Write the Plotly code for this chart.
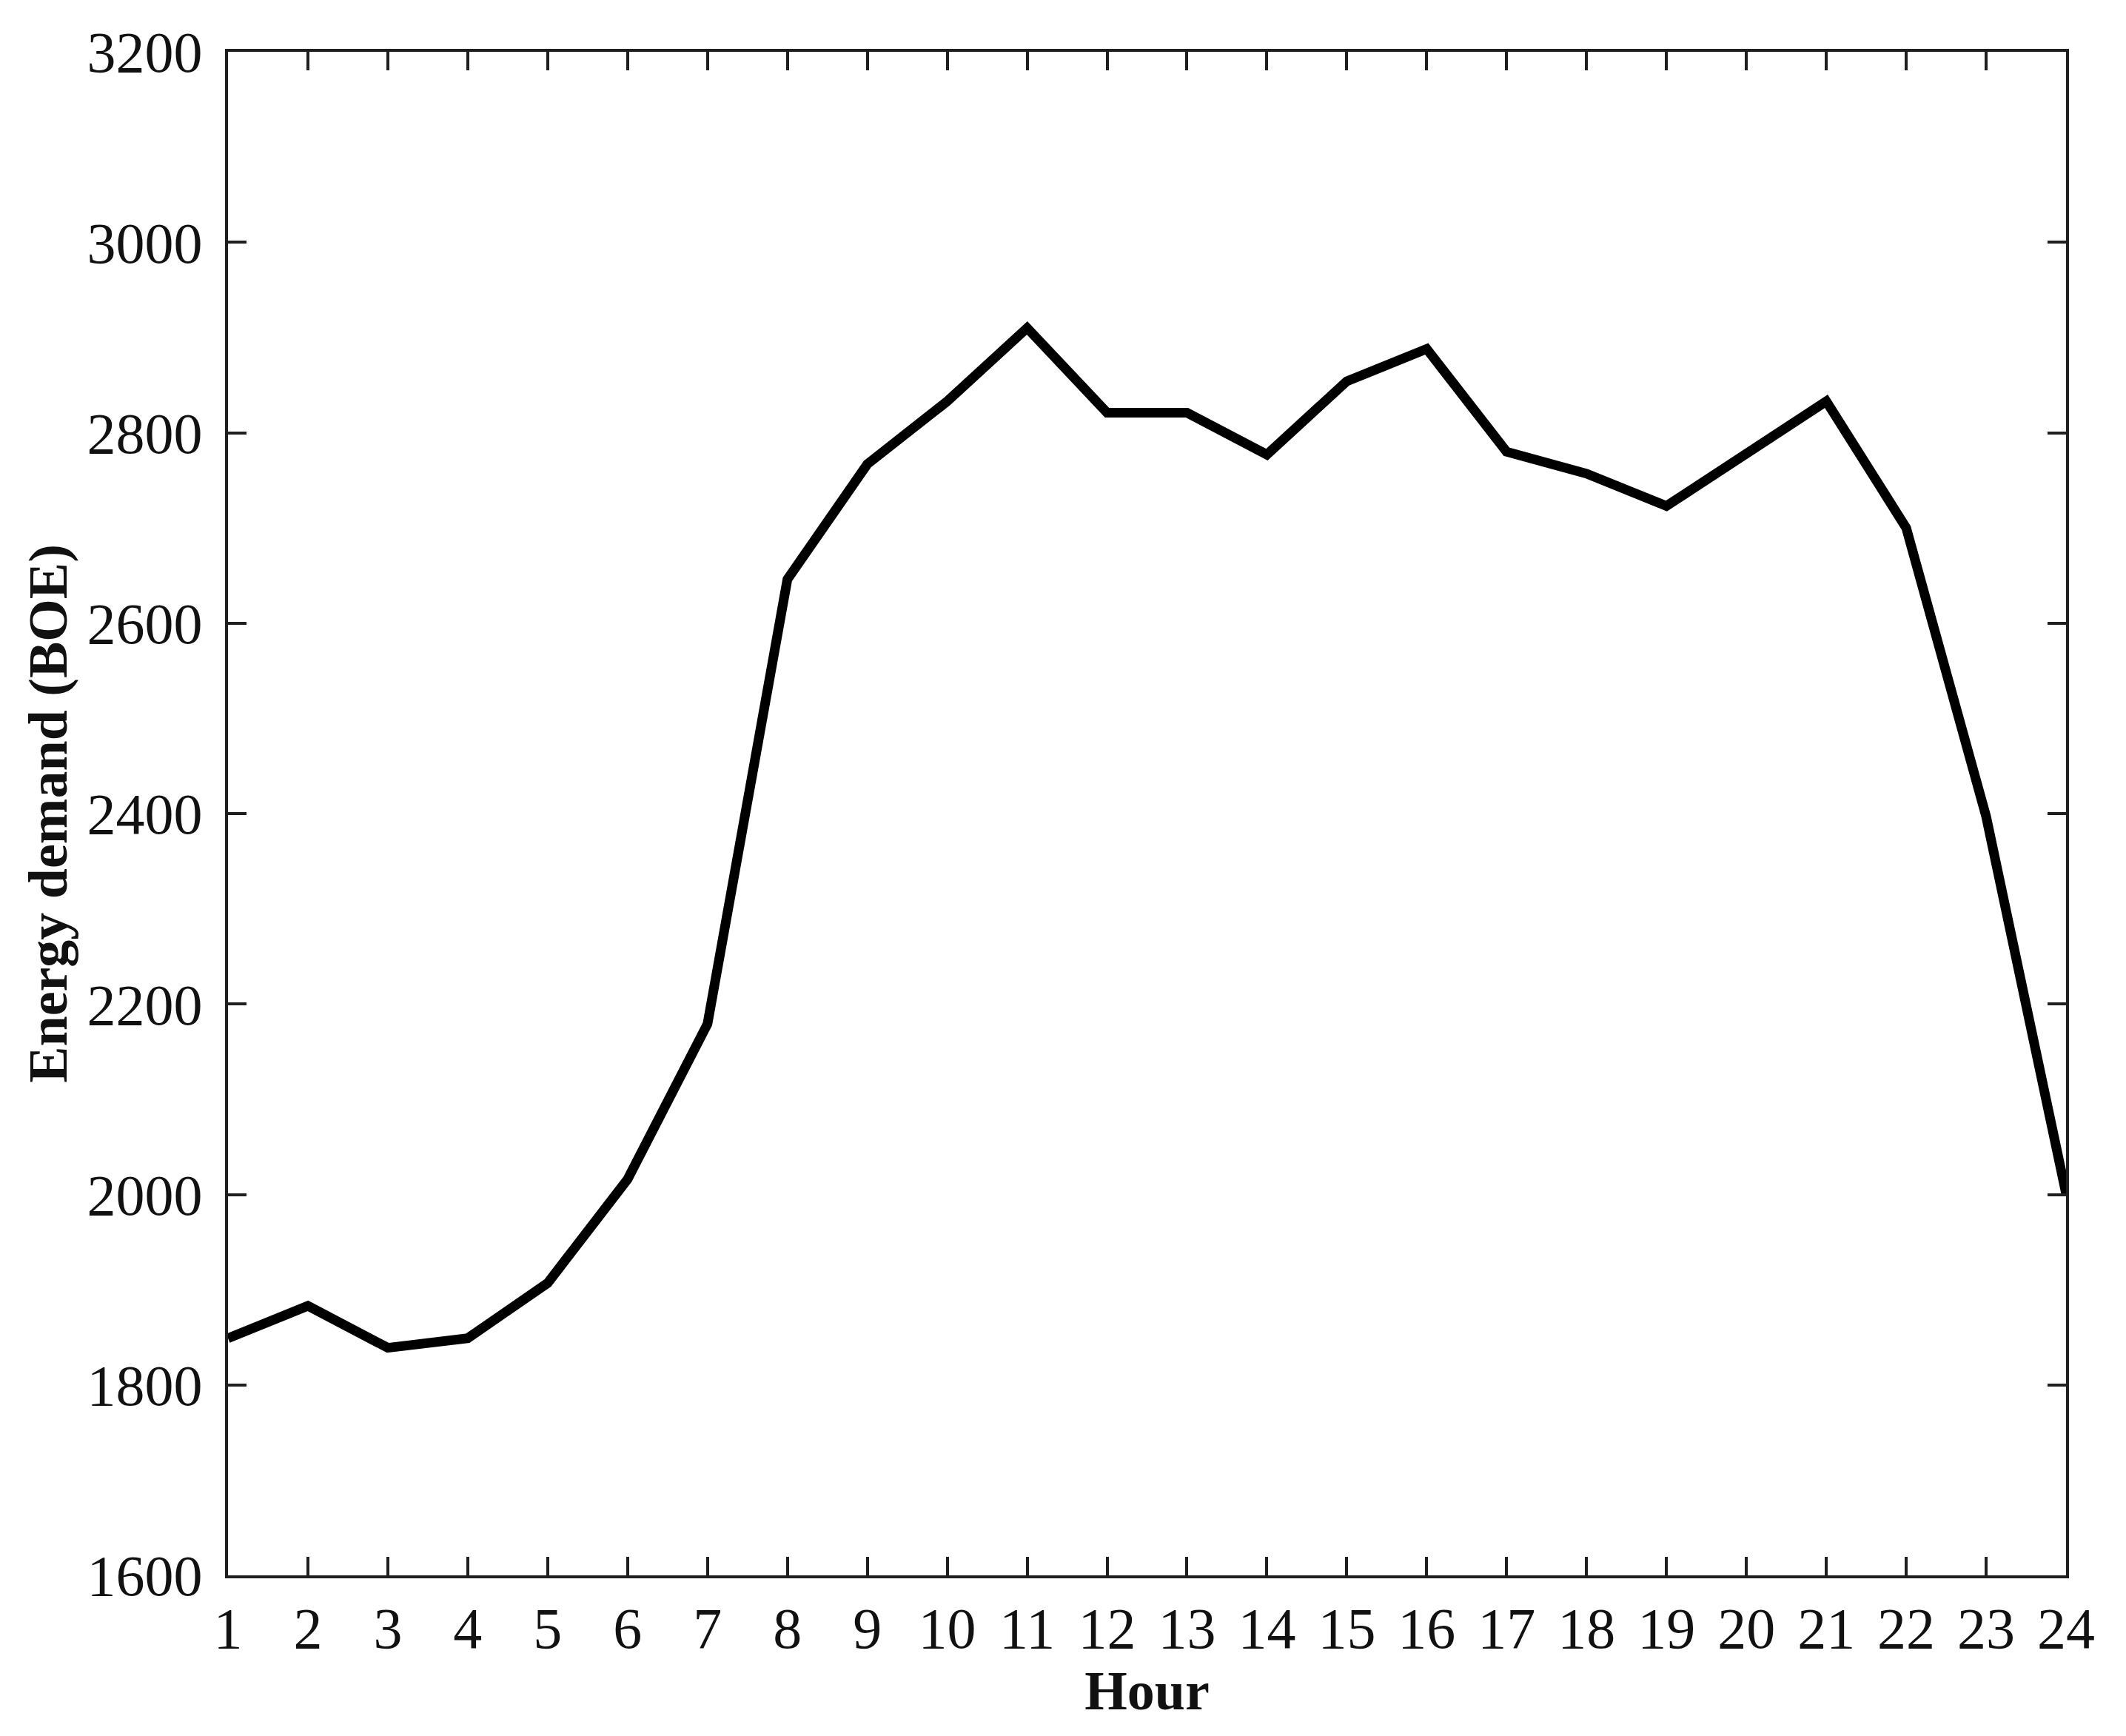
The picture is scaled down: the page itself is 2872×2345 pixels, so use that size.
import plotly.graph_objects as go

# hourly energy demand
hours = list(range(1, 25))
demand = [1849, 1883, 1839, 1849, 1907, 2016, 2179, 2646, 2767, 2833, 2910, 2821,
          2821, 2777, 2854, 2888, 2780, 2757, 2723, 2779, 2833, 2700, 2397, 2001]
y_ticks = [1600, 1800, 2000, 2200, 2400, 2600, 2800, 3000, 3200]

# the page body has an 8px margin, so the figure is made 8px smaller
W, H = 2864, 2337
font = "Liberation Serif, Times New Roman, serif"
axis_color = "#1f1f1f"

fig = go.Figure()
fig.add_trace(
    go.Scatter(
        x=hours,
        y=demand,
        mode="lines",
        line=dict(color="black", width=13),
        showlegend=False,
        cliponaxis=False,
    )
)

axis_kwargs = dict(
    showgrid=False,
    zeroline=False,
    showline=True,
    linecolor=axis_color,
    linewidth=4,
    mirror="ticks",
    ticks="inside",
    ticklen=25,
    tickwidth=4,
    tickcolor=axis_color,
    tickfont=dict(family=font, size=78, color="#111111"),
)

fig.update_layout(
    width=W,
    height=H,
    template=None,
    paper_bgcolor="white",
    plot_bgcolor="white",
    margin=dict(l=300, r=81, t=62, b=217, pad=0),
    font=dict(family=font, color="#111111"),
    xaxis=dict(
        range=[1, 24],
        tickvals=hours,
        title=dict(text="<b>Hour</b>", font=dict(family=font, size=74), standoff=14),
        **axis_kwargs,
    ),
    yaxis=dict(
        range=[1600, 3200],
        tickvals=y_ticks,
        ticklabelstandoff=15,
        title=dict(text="<b>Energy demand (BOE)</b>", font=dict(family=font, size=74), standoff=4),
        **axis_kwargs,
    ),
)

fig.write_html("out.html")
